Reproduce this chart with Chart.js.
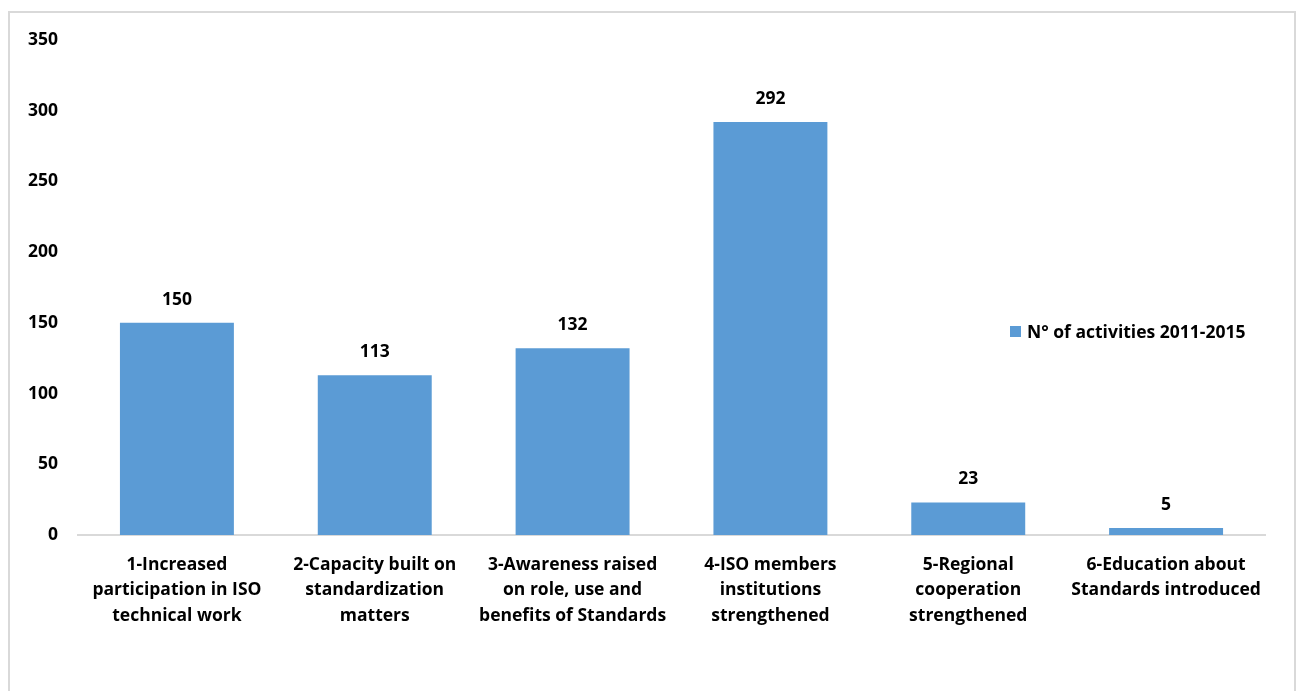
<!DOCTYPE html>
<html>
<head>
<meta charset="utf-8">
<script src="https://cdn.jsdelivr.net/npm/chart.js@4.4.1/dist/chart.umd.min.js"></script>
<style>
  html, body { margin: 0; padding: 0; background: #fff; overflow: hidden; }
  #frame { position: absolute; left: 8px; top: 11px; width: 1284px; height: 700px; border: 2px solid #d9d9d9; }
  #wrap { position: absolute; left: 0; top: 0; width: 1299px; height: 691px; }
  #legenda { position: absolute; left: 1010px; top: 319px; height: 24px; display: flex; align-items: center; font: bold 17.5px "Open Sans", sans-serif; color: #000; white-space: nowrap; }
  #legenda span.cor { display: inline-block; width: 11px; height: 11px; background: #5B9BD5; margin-right: 6px; }
</style>
</head>
<body>
<div id="frame"></div>
<div id="wrap"><canvas id="myEps"></canvas></div>
<div id="legenda"><span class="cor"></span><span id="txtLegenda"></span></div>
<script>
const categorias = [
  ["1-Increased", "participation in ISO", "technical work"],
  ["2-Capacity built on", "standardization", "matters"],
  ["3-Awareness raised", "on role, use and", "benefits of Standards"],
  ["4-ISO members", "institutions", "strengthened"],
  ["5-Regional", "cooperation", "strengthened"],
  ["6-Education about", "Standards introduced"]
];
const atividades = [150, 113, 132, 292, 23, 5];
const nomeSerie = "N° of activities 2011-2015";
const ticksY = [0, 50, 100, 150, 200, 250, 300, 350];

document.getElementById("txtLegenda").textContent = nomeSerie;

const fonteNegrito = { family: "'Open Sans', sans-serif", size: 17.5, weight: "bold", lineHeight: 1.46 };

// escreve o valor em cima de cada barra
const rotulosBarras = {
  id: "rotulosBarras",
  afterDatasetsDraw(chart) {
    const ctx = chart.ctx;
    const meta = chart.getDatasetMeta(0);
    ctx.save();
    ctx.font = "bold 17.5px 'Open Sans', sans-serif";
    ctx.fillStyle = "#000";
    ctx.textAlign = "center";
    ctx.textBaseline = "middle";
    meta.data.forEach(function (barra, i) {
      ctx.fillText(String(atividades[i]), barra.x, barra.y - 23);
    });
    ctx.restore();
  }
};

const config = {
  type: "bar",
  data: {
    labels: categorias,
    datasets: [
      {
        label: nomeSerie,
        data: atividades,
        backgroundColor: "#5B9BD5",
        borderWidth: 0,
        barPercentage: 0.576,
        categoryPercentage: 1
      }
    ]
  },
  options: {
    responsive: true,
    maintainAspectRatio: false,
    animation: false,
    layout: { padding: { left: 0, right: 34, top: 40, bottom: 0 } },
    plugins: {
      legend: { display: false },
      tooltip: { enabled: false }
    },
    scales: {
      x: {
        grid: { display: false, drawTicks: false },
        border: { display: true, color: "#d9d9d9", width: 2 },
        ticks: { color: "#000", font: fonteNegrito, padding: 17, maxRotation: 0, autoSkip: false },
        afterFit: function (escala) { escala.height = 691 - 535; }
      },
      y: {
        min: 0,
        max: 350,
        grid: { display: false, drawTicks: false },
        border: { display: false },
        afterBuildTicks: function (escala) { escala.ticks = ticksY.map(v => ({ value: v })); },
        ticks: { color: "#000", font: fonteNegrito, padding: 20 },
        afterFit: function (escala) { escala.width = 78; }
      }
    }
  },
  plugins: [rotulosBarras]
};

let myChart = new Chart(document.getElementById("myEps"), config);
</script>
</body>
</html>
